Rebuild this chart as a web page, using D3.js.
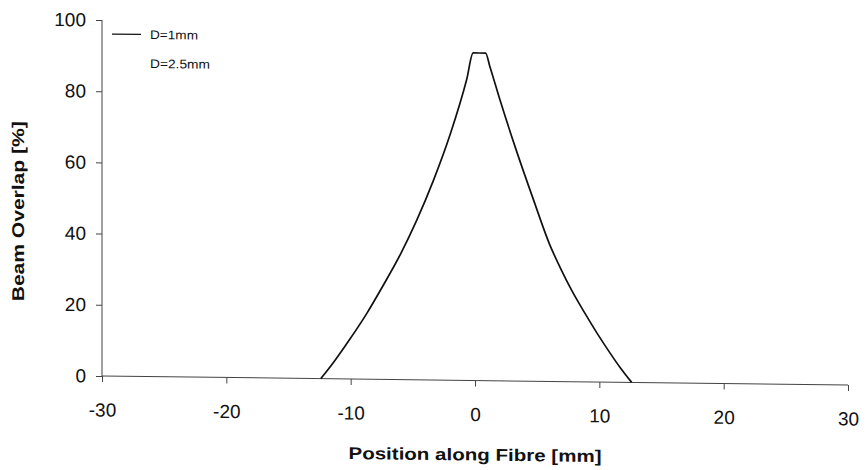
<!DOCTYPE html>
<html>
<head>
<meta charset="utf-8">
<script src="https://cdn.jsdelivr.net/npm/d3@7/dist/d3.min.js"></script>
<style>
  html, body { margin: 0; padding: 0; background: #fff; }
  svg { display: block; }
  text { font-family: "Liberation Sans", Arial, Helvetica, sans-serif; fill: #111; }
</style>
</head>
<body>
<svg id="chart" width="866" height="470"></svg>
<script>
// ---- data ----
const positions = [-12.4, -11.4, -10.1, -8.7, -7.4, -6.0, -4.7, -3.35, -2.0, -0.67, -0.15,
                   0.85, 1.2, 2.0, 3.35, 4.7, 6.0, 6.85, 7.8, 8.8, 9.8, 10.8, 11.7, 12.6];
const overlap   = [0, 4.5, 11.0, 18.5, 26.3, 35.2, 44.7, 56.0, 69.0, 84.5, 92.0,
                   92.0, 88.2, 79.0, 64.5, 51.0, 38.5, 32.0, 25.5, 19.5, 13.8, 8.5, 4.0, 0];
const xTicks = [-30, -20, -10, 0, 10, 20, 30];
const yTicks = [0, 20, 40, 60, 80, 100];
const legendLabels = ["D=1mm", "D=2.5mm"];
const xTitle = "Position along Fibre [mm]";
const yTitle = "Beam Overlap [%]";

// ---- layout ----
const W = 746, H = 356;
const svg = d3.select("#chart");
const g = svg.append("g")
  .attr("transform", "translate(102,20) skewY(0.69)");

const x = d3.scaleLinear().domain([-30, 30]).range([0, W]);
const y = d3.scaleLinear().domain([0, 100]).range([H, 0]);

const axisColor = "#444";
const fmt = d => String(d);

const xAxis = g.append("g")
  .attr("transform", `translate(0,${H})`)
  .call(d3.axisBottom(x).tickValues(xTicks).tickSize(6).tickPadding(21).tickFormat(fmt));
const yAxis = g.append("g")
  .call(d3.axisLeft(y).tickValues(yTicks).tickSize(6).tickPadding(10).tickFormat(fmt));

[xAxis, yAxis].forEach(a => {
  a.selectAll("path.domain").attr("stroke", axisColor).attr("stroke-width", 1);
  a.selectAll(".tick line").attr("stroke", axisColor).attr("stroke-width", 1);
  a.selectAll(".tick text")
    .style("font-family", '"Liberation Sans", Arial, sans-serif')
    .style("font-size", "19px").attr("fill", "#111");
});
xAxis.select("path.domain").attr("d", `M0,0H${W}`);
yAxis.select("path.domain").attr("d", `M0,0V${H}`);

// ---- curve ----
const pts = positions.map((p, i) => [p, overlap[i]]);
g.append("path")
  .datum(pts)
  .attr("fill", "none")
  .attr("stroke", "#111")
  .attr("stroke-width", 1.7)
  .attr("stroke-linejoin", "round")
  .attr("d", d3.line().x(d => x(d[0])).y(d => y(d[1])).curve(d3.curveMonotoneX));

// ---- legend ----
const leg = g.append("g").attr("transform", "translate(10,14)");
leg.append("line").attr("x1", 0).attr("x2", 29).attr("y1", 0).attr("y2", 0)
  .attr("stroke", "#111").attr("stroke-width", 1.2);
legendLabels.forEach((lab, i) => {
  leg.append("text")
    .attr("x", 38).attr("y", i * 29)
    .attr("dy", "0.35em")
    .style("font-size", "12.5px")
    .attr("textLength", i === 0 ? 48 : 60)
    .attr("lengthAdjust", "spacingAndGlyphs")
    .text(lab);
});

// ---- titles ----
g.append("text")
  .attr("x", x(0)).attr("y", H + 80)
  .attr("text-anchor", "middle")
  .style("font-size", "17px").style("font-weight", "bold")
  .attr("textLength", 253).attr("lengthAdjust", "spacingAndGlyphs")
  .text(xTitle);

g.append("text")
  .attr("transform", `translate(-78,${y(46)}) rotate(-90)`)
  .attr("text-anchor", "middle")
  .style("font-size", "17px").style("font-weight", "bold")
  .attr("textLength", 180).attr("lengthAdjust", "spacingAndGlyphs")
  .text(yTitle);
</script>
</body>
</html>
